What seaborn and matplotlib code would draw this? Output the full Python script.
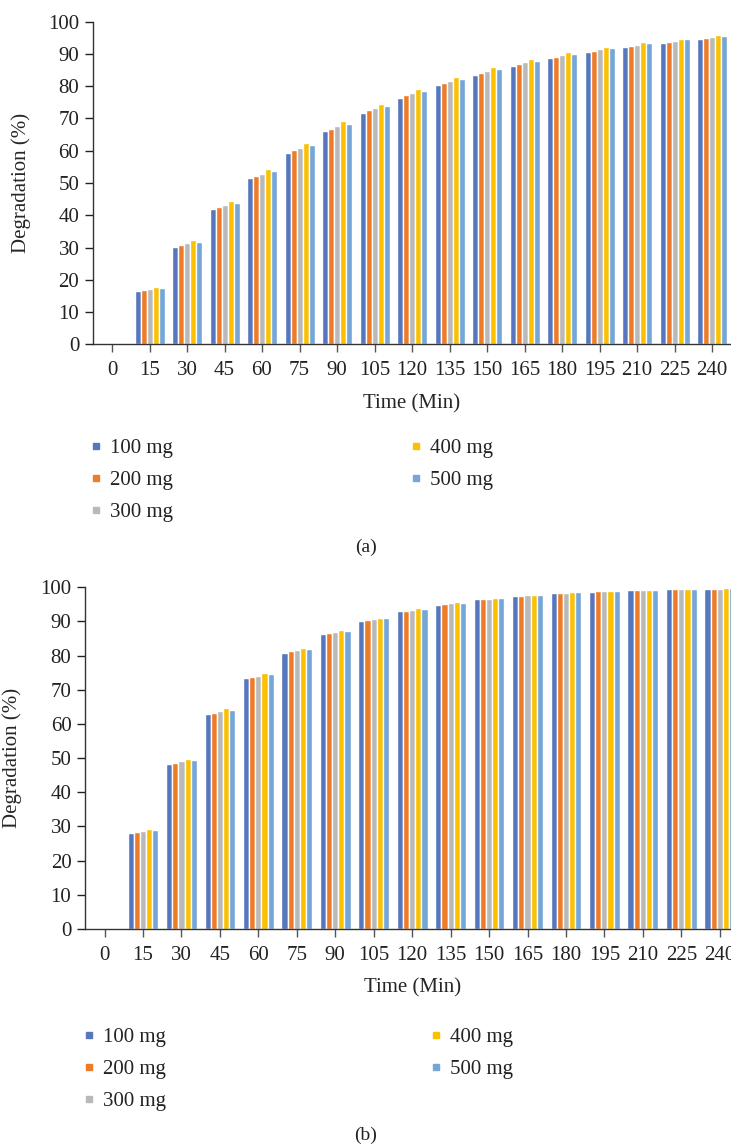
import pandas as pd
import matplotlib.pyplot as plt
import seaborn as sns
from matplotlib.lines import Line2D

# tempo (min) e doses
tempos = [0, 15, 30, 45, 60, 75, 90, 105, 120, 135, 150, 165, 180, 195, 210, 225, 240]
doses = ['100 mg', '200 mg', '300 mg', '400 mg', '500 mg']
cores = ['#5677BD', '#EE7B28', '#B9B9B9', '#FBC000', '#74A6D7']

# painel (a) - degradacao (%)
deg_a_100 = [0, 16.5, 30.2, 41.9, 51.5, 59.3, 66.1, 71.7, 76.3, 80.4, 83.5, 86.3, 88.7, 90.6, 92.1, 93.4, 94.6]
deg_a_200 = [0, 16.8, 30.8, 42.6, 52.2, 60.2, 66.7, 72.6, 77.3, 81.0, 84.1, 86.9, 89.0, 90.9, 92.5, 93.7, 94.9]
deg_a_300 = [0, 17.1, 31.5, 43.2, 52.8, 60.8, 67.7, 73.2, 77.9, 81.6, 84.7, 87.5, 89.7, 91.5, 92.8, 94.0, 95.2]
deg_a_400 = [0, 17.9, 32.3, 44.4, 54.3, 62.4, 69.2, 74.5, 79.1, 82.9, 86.0, 88.4, 90.6, 92.1, 93.7, 94.6, 95.9]
deg_a_500 = [0, 17.5, 31.7, 43.8, 53.7, 61.8, 68.3, 73.9, 78.5, 82.2, 85.3, 87.8, 90.0, 91.8, 93.4, 94.6, 95.6]

# painel (b) - degradacao (%)
deg_b_100 = [0, 28.1, 48.3, 62.9, 73.5, 80.8, 86.3, 90.1, 93.1, 94.8, 96.6, 97.5, 98.3, 98.6, 99.2, 99.5, 99.5]
deg_b_200 = [0, 28.4, 48.6, 63.2, 73.8, 81.4, 86.6, 90.4, 93.1, 95.1, 96.6, 97.5, 98.3, 98.9, 99.2, 99.5, 99.5]
deg_b_300 = [0, 28.7, 49.2, 63.8, 74.0, 81.7, 86.9, 90.7, 93.4, 95.4, 96.6, 97.8, 98.3, 98.9, 99.2, 99.5, 99.5]
deg_b_400 = [0, 29.3, 49.8, 64.7, 74.9, 82.2, 87.5, 91.0, 94.0, 95.7, 96.9, 97.8, 98.6, 98.9, 99.2, 99.5, 99.8]
deg_b_500 = [0, 29.0, 49.5, 64.1, 74.6, 82.0, 87.2, 91.0, 93.7, 95.4, 96.9, 97.8, 98.6, 98.9, 99.2, 99.5, 99.8]


def monta_df(series):
    linhas = []
    for dose, valores in zip(doses, series):
        for t, v in zip(tempos, valores):
            linhas.append({'tempo': str(t), 'dose': dose, 'deg': v})
    return pd.DataFrame(linhas)


df_a = monta_df([deg_a_100, deg_a_200, deg_a_300, deg_a_400, deg_a_500])
df_b = monta_df([deg_b_100, deg_b_200, deg_b_300, deg_b_400, deg_b_500])

sns.set_theme(style="white")
plt.rcParams['font.family'] = ['Liberation Serif', 'DejaVu Serif']
plt.rcParams['text.color'] = '#222222'

W, H = 731, 1147
fig = plt.figure(figsize=(W / 100, H / 100), dpi=100)
FS = 15


def painel(df, left_px, right_px, top_px, bottom_px, ylab_x, xlab_y,
           leg_y, leg_x, col_sp, letra, letra_y):
    ax = fig.add_axes([left_px / W, 1 - bottom_px / H,
                       (right_px - left_px) / W, (bottom_px - top_px) / H])
    sns.barplot(data=df, x='tempo', y='deg', hue='dose', palette=cores,
                width=0.8, saturation=1, legend=False, ax=ax)
    ax.set_ylim(0, 100)
    ax.set_xlim(-0.5, 16.5)
    ax.set_yticks(range(0, 101, 10))
    sns.despine(ax=ax)
    for s in ['left', 'bottom']:
        ax.spines[s].set_color('#333333')
        ax.spines[s].set_linewidth(1.0)
    ax.tick_params(axis='both', labelsize=FS, colors='#222222', length=6,
                   width=1, direction='out', bottom=True, left=True, pad=4)
    ax.tick_params(axis='x', colors='#555555', labelcolor='#222222', pad=6)
    ax.set_xlabel('Time (Min)', fontsize=FS)
    ax.set_ylabel('Degradation (%)', fontsize=FS)
    ax.yaxis.set_label_coords((ylab_x - left_px) / (right_px - left_px), 0.5)
    ax.xaxis.set_label_coords(0.5, -(xlab_y - bottom_px) / (bottom_px - top_px))
    ax.grid(False)

    handles = [Line2D([0], [0], marker='s', linestyle='', markersize=5,
                      markerfacecolor=c, markeredgecolor=c) for c in cores]
    fig.legend(handles, doses, loc='upper left', ncol=2, frameon=False,
               bbox_to_anchor=(leg_x / W, 1 - leg_y / H), fontsize=FS,
               handlelength=0.4, handletextpad=0.5, columnspacing=col_sp,
               labelspacing=0.6, borderaxespad=0)
    fig.text(0.5, 1 - letra_y / H, letra, ha='center', va='center', fontsize=14)
    return ax


painel(df_a, 93.25, 730.75, 21.7, 344.3, 31, 394, 430, 83, 11.45, '(a)', 547)
painel(df_b, 85.3, 739.0, 587.3, 929.0, 22, 978, 1019, 76, 12.75, '(b)', 1135)

plt.savefig('out.png', dpi=100)
